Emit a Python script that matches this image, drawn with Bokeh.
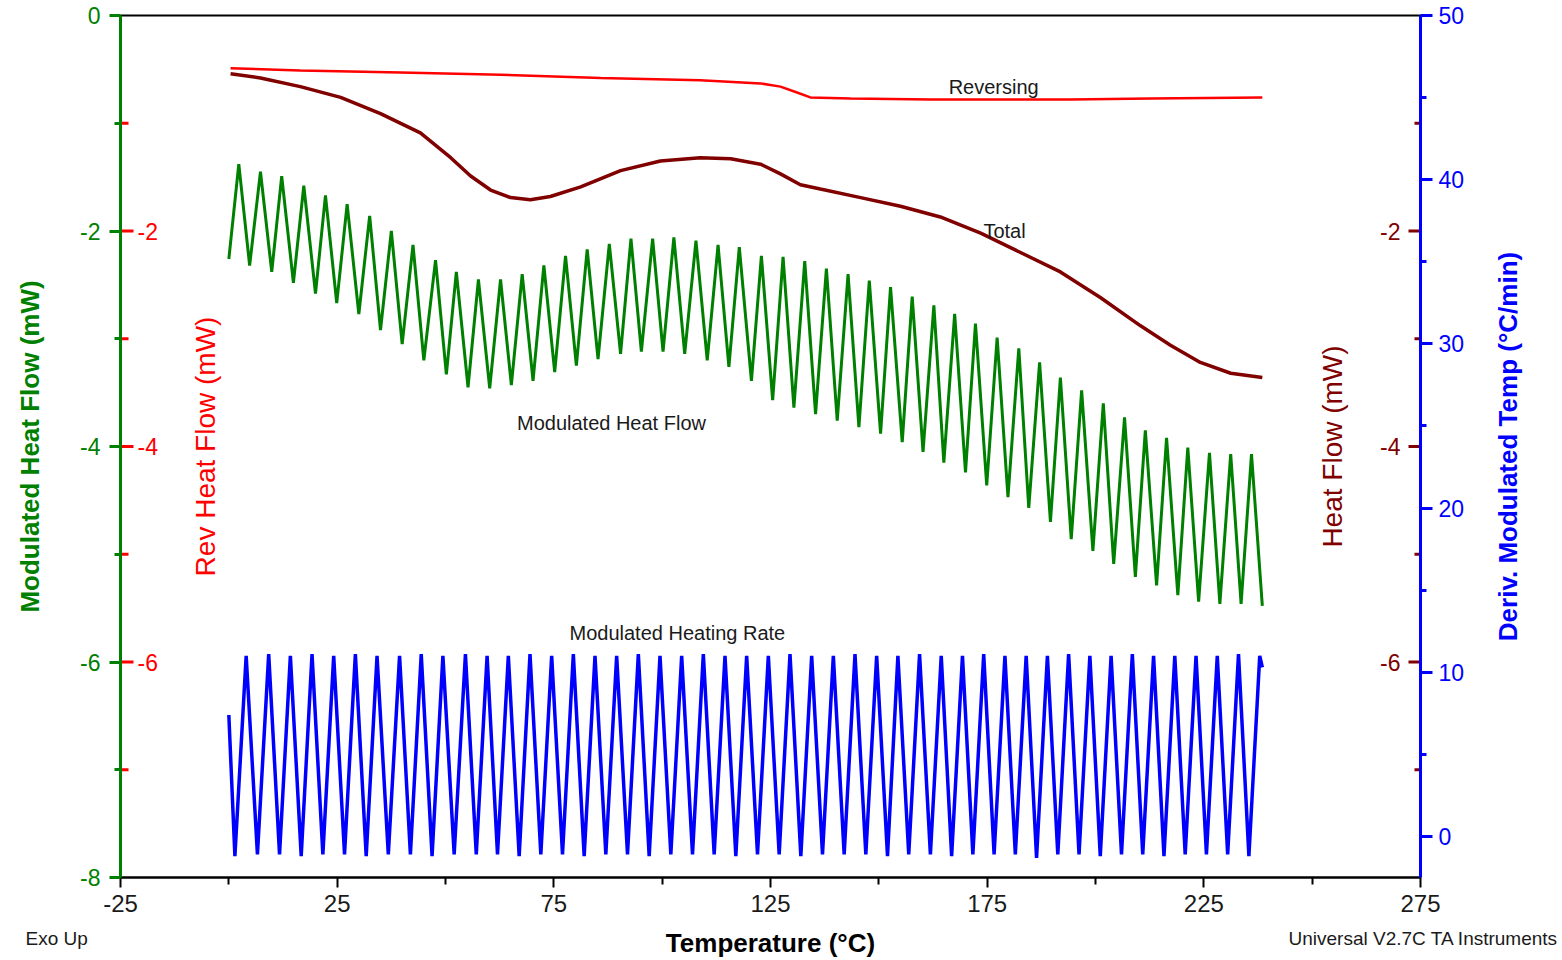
import math
from bokeh.plotting import figure
from bokeh.layouts import column, row
from bokeh.models import LinearAxis, Range1d, FixedTicker, Label
from bokeh.embed import file_html
from bokeh.resources import INLINE
from bokeh.core.properties import value

FONT = "Liberation Sans"
GREEN = "#008000"
RED = "#FF0000"
DRED = "#800000"
BLUE = "#0000FF"
TXT = "#1a1a1a"

# ---------------- axes ----------------
x_ticks = [-25, 25, 75, 125, 175, 225, 275]
x_minor = [0, 50, 100, 150, 200, 250]
left_ticks = [0, -2, -4, -6, -8]
left_minor = [-1, -3, -5, -7]
hf_major = [-2, -4, -6]
hf_minor = [-1, -3, -5, -7]
rate_ticks = [0, 10, 20, 30, 40, 50]
rate_minor = [5, 15, 25, 35, 45]

# ---------------- data ----------------
rev_T = [0.4, 16.5, 39.6, 62.7, 85.8, 108.8, 122.7, 127.3, 130.8, 134.2, 143.5, 161.9, 178.1, 194.2, 212.7, 238.5]
rev_V = [-0.49, -0.51, -0.53, -0.55, -0.58, -0.60, -0.63, -0.66, -0.71, -0.76, -0.77, -0.78, -0.78, -0.78, -0.77, -0.76]

tot_T = [0.4, 7.3, 16.5, 25.8, 35.0, 44.2, 51.2, 55.8, 60.4, 65.0, 69.6, 74.2, 81.2, 90.4, 99.6, 108.8,
         115.8, 122.7, 127.3, 131.9, 136.5, 145.8, 155.0, 164.2, 173.5, 182.7, 191.9, 201.2, 210.4,
         217.3, 224.2, 231.2, 238.5]
tot_V = [-0.54, -0.58, -0.66, -0.76, -0.91, -1.09, -1.32, -1.49, -1.62, -1.69, -1.71, -1.68, -1.59, -1.44,
         -1.35, -1.32, -1.33, -1.38, -1.47, -1.57, -1.61, -1.69, -1.77, -1.87, -2.02, -2.20, -2.38, -2.62,
         -2.88, -3.06, -3.22, -3.32, -3.36]

mhf_start = (0.0, -2.26)
mhf_end = (238.5, -5.48)
mhf_peak_T = [2.3, 7.3, 12.2, 17.3, 22.3, 27.3, 32.5, 37.5, 42.5, 47.7, 52.5, 57.6, 62.7, 67.7, 72.7, 77.7,
              82.7, 87.8, 92.8, 97.8, 102.7, 107.8, 112.9, 117.8, 122.9, 127.9, 132.9, 137.9, 142.9, 147.8,
              152.7, 157.7, 162.7, 167.5, 172.3, 177.3, 182.3, 187.1, 191.9, 196.8, 201.8, 206.7, 211.5,
              216.4, 221.3, 226.3, 231.2, 236.0]
mhf_peak_V = [-1.38, -1.45, -1.49, -1.58, -1.67, -1.75, -1.86, -2.00, -2.13, -2.27, -2.38, -2.45,
              -2.45, -2.40, -2.32, -2.23, -2.17, -2.12, -2.07, -2.07, -2.06, -2.09, -2.13, -2.15, -2.23,
              -2.24, -2.28, -2.35, -2.40, -2.46, -2.52, -2.61, -2.69, -2.77, -2.86, -2.99, -3.09,
              -3.22, -3.36, -3.48, -3.60, -3.73, -3.85, -3.92, -4.01, -4.06, -4.07, -4.07]
mhf_trough_T = [4.8, 9.9, 14.9, 20.0, 24.9, 30.0, 35.0, 40.0, 45.0, 50.2, 55.2, 60.2, 65.2, 70.2, 75.2,
                80.2, 85.2, 90.4, 95.2, 100.2, 105.2, 110.4, 115.4, 120.6, 125.5, 130.4, 135.4, 140.4,
                145.4, 150.4, 155.4, 160.2, 165.0, 170.0, 174.9, 179.8, 184.6, 189.6, 194.4, 199.4,
                204.2, 209.2, 214.1, 219.0, 223.8, 228.7, 233.6]
mhf_trough_V = [-2.32, -2.38, -2.48, -2.58, -2.67, -2.77, -2.92, -3.05, -3.20, -3.33, -3.45,
                -3.46, -3.43, -3.39, -3.31, -3.25, -3.19, -3.14, -3.12, -3.12, -3.14, -3.20, -3.26, -3.39, -3.57,
                -3.64, -3.70, -3.76, -3.82, -3.88, -3.96, -4.05, -4.15, -4.24, -4.36, -4.47,
                -4.57, -4.70, -4.86, -4.97, -5.09, -5.21, -5.29, -5.38, -5.44, -5.46, -5.46]

mhr_start = (0.0, 7.4)
mhr_end = (238.5, 10.3)
mhr_trough_T = [1.4, 6.6, 11.7, 16.7, 21.7, 26.7, 31.7, 36.8, 41.9, 46.9, 52.0, 57.1, 62.0, 67.0, 72.0,
                77.0, 82.0, 87.0, 92.0, 97.0, 102.0, 107.0, 112.0, 117.0, 122.0, 127.0, 132.0, 137.0,
                142.0, 147.0, 152.0, 156.9, 161.9, 166.8, 171.7, 176.6, 181.5, 186.4, 191.3, 196.2,
                201.1, 206.0, 210.9, 215.8, 220.7, 225.6, 230.5, 235.4]
mhr_trough_V = [-1.2, -1.1, -1.1, -1.2, -1.1, -1.1, -1.2, -1.1, -1.1, -1.2, -1.1, -1.1, -1.1, -1.2, -1.1,
                -1.1, -1.2, -1.1, -1.1, -1.2, -1.1, -1.1, -1.1, -1.2, -1.1, -1.1, -1.2, -1.1, -1.1, -1.1,
                -1.2, -1.1, -1.1, -1.2, -1.1, -1.1, -1.1, -1.3, -1.1, -1.1, -1.2, -1.1, -1.1, -1.2, -1.1,
                -1.1, -1.1, -1.2]
mhr_peak_T = [4.0, 9.2, 14.2, 19.2, 24.2, 29.2, 34.2, 39.4, 44.4, 49.4, 54.6, 59.6, 64.5, 69.5, 74.5,
              79.5, 84.5, 89.5, 94.5, 99.5, 104.5, 109.5, 114.5, 119.5, 124.5, 129.5, 134.5, 139.5,
              144.5, 149.5, 154.4, 159.4, 164.4, 169.3, 174.2, 179.1, 184.0, 188.9, 193.8, 198.7,
              203.6, 208.5, 213.4, 218.3, 223.2, 228.1, 233.0, 237.9]
mhr_peak_V = [11.0, 11.1, 11.0, 11.1, 11.0, 11.1, 11.0, 11.0, 11.1, 11.0, 11.1, 11.0, 11.0, 11.1, 11.0,
              11.1, 11.0, 11.0, 11.1, 11.0, 11.0, 11.1, 11.0, 11.0, 11.0, 11.1, 11.0, 11.0, 11.1, 11.0,
              11.0, 11.1, 11.0, 11.0, 11.1, 11.0, 11.0, 11.0, 11.1, 11.0, 11.0, 11.1, 11.0, 11.0, 11.0,
              11.0, 11.1, 11.0]

# ---------------- text ----------------
curve_labels = ["Reversing", "Total", "Modulated Heat Flow", "Modulated Heating Rate"]
curve_label_T = [176.5, 179.0, 88.3, 103.5]
curve_label_V = [-0.66, -2.00, -3.78, -5.73]
x_title = "Temperature (°C)"
rate_title = "Deriv. Modulated Temp (°C/min)"
footer_left = "Exo Up"
footer_right = "Universal V2.7C TA Instruments"


def alternate(a, b):
    out = []
    for i in range(max(len(a), len(b))):
        if i < len(a):
            out.append(a[i])
        if i < len(b):
            out.append(b[i])
    return out


def hyphen(ticks):
    return {t: str(t) for t in ticks}


def no_align(fig):
    try:
        fig.frame_align = False
    except Exception:
        pass


mhf_x = [mhf_start[0]] + alternate(mhf_peak_T, mhf_trough_T) + [mhf_end[0]]
mhf_y = [mhf_start[1]] + alternate(mhf_peak_V, mhf_trough_V) + [mhf_end[1]]
mhr_x = [mhr_start[0]] + alternate(mhr_trough_T, mhr_peak_T) + [mhr_end[0]]
mhr_y = [mhr_start[1]] + alternate(mhr_trough_V, mhr_peak_V) + [mhr_end[1]]

W = 1562
FOOT_H = 35
SIDE_W = 82
MAIN_H = 960 - FOOT_H

p = figure(width=W - SIDE_W, height=MAIN_H, x_range=Range1d(-25, 275), y_range=Range1d(-8, 0),
           x_axis_type=None, y_axis_type=None,
           output_backend="svg", toolbar_location=None,
           min_border_left=120, min_border_right=W - SIDE_W - 1420, min_border_top=15, min_border_bottom=48)
p.extra_y_ranges = {"rate": Range1d(-2.5, 50)}
p.background_fill_color = "white"
p.border_fill_color = "white"
p.outline_line_color = "black"
p.outline_line_width = 2

# x axis
xax = LinearAxis(ticker=FixedTicker(ticks=x_ticks, minor_ticks=x_minor))
xax.major_label_overrides = hyphen(x_ticks)
xax.axis_line_color = "black"
xax.axis_line_width = 2
xax.major_tick_line_color = "black"
xax.major_tick_line_width = 2
xax.minor_tick_line_color = "black"
xax.minor_tick_line_width = 2
xax.major_tick_out = 10
xax.major_tick_in = 0
xax.minor_tick_out = 7
xax.minor_tick_in = 0
xax.major_label_standoff = 7
xax.major_label_text_font = FONT
xax.major_label_text_font_size = "24px"
xax.major_label_text_color = TXT
p.add_layout(xax, "below")

# left green axis
gax = LinearAxis(ticker=FixedTicker(ticks=left_ticks, minor_ticks=left_minor))
gax.axis_label = "Modulated Heat Flow (mW)"
gax.major_label_overrides = hyphen(left_ticks)
gax.axis_line_color = GREEN
gax.axis_line_width = 3
gax.major_tick_line_color = GREEN
gax.major_tick_line_width = 3
gax.minor_tick_line_color = GREEN
gax.minor_tick_line_width = 3
gax.major_tick_out = 11
gax.major_tick_in = 0
gax.minor_tick_out = 6
gax.minor_tick_in = 0
gax.major_label_standoff = 9
gax.major_label_text_font = FONT
gax.major_label_text_font_size = "23px"
gax.major_label_text_color = GREEN
gax.axis_label_text_font = FONT
gax.axis_label_text_font_size = "26px"
gax.axis_label_text_font_style = "bold"
gax.axis_label_text_color = GREEN
gax.axis_label_standoff = 32
p.add_layout(gax, "left")

# right blue axis (title drawn in the side strip)
bax = LinearAxis(y_range_name="rate", ticker=FixedTicker(ticks=rate_ticks, minor_ticks=rate_minor))
bax.axis_line_color = BLUE
bax.axis_line_width = 3
bax.major_tick_line_color = BLUE
bax.major_tick_line_width = 3
bax.minor_tick_line_color = BLUE
bax.minor_tick_line_width = 3
bax.major_tick_out = 12
bax.major_tick_in = 0
bax.minor_tick_out = 6
bax.minor_tick_in = 0
bax.major_label_standoff = 6
bax.major_label_text_font = FONT
bax.major_label_text_font_size = "23px"
bax.major_label_text_color = BLUE
p.add_layout(bax, "right")

# inner red (Rev Heat Flow) ticks and labels, on the left edge
p.ray(x=[-25] * len(hf_minor), y=hf_minor, length=8, length_units="screen", angle=0,
      line_color=RED, line_width=3)
p.ray(x=[-25] * len(hf_major), y=hf_major, length=13, length_units="screen", angle=0,
      line_color=RED, line_width=3)
p.text(x=[-25] * len(hf_major), y=hf_major, text=[str(t) for t in hf_major], x_offset=17,
       text_align="left", text_baseline="middle", text_color=RED,
       text_font=value(FONT), text_font_size="23px")

# inner dark red (Heat Flow) ticks and labels, on the right edge
p.ray(x=[275] * len(hf_minor), y=hf_minor, length=6, length_units="screen", angle=math.pi,
      line_color=DRED, line_width=3)
p.ray(x=[275] * len(hf_major), y=hf_major, length=12, length_units="screen", angle=math.pi,
      line_color=DRED, line_width=3)
p.text(x=[275] * len(hf_major), y=hf_major, text=[str(t) for t in hf_major], x_offset=-20,
       text_align="right", text_baseline="middle", text_color=DRED,
       text_font=value(FONT), text_font_size="23px")

# curves
p.line(rev_T, rev_V, line_color=RED, line_width=2.5)
p.line(tot_T, tot_V, line_color=DRED, line_width=3.5)
p.line(mhf_x, mhf_y, line_color=GREEN, line_width=3)
p.line(mhr_x, mhr_y, line_color=BLUE, line_width=3.5, y_range_name="rate")


def lab(x, y, text, color, size, xo=0, align="center", angle=0.0, bold=False):
    p.add_layout(Label(x=x, y=y, text=text, x_offset=xo, text_align=align,
                       text_baseline="middle", angle=angle, text_color=color, text_font=FONT,
                       text_font_size=f"{size}px", text_font_style="bold" if bold else "normal"))


for t, xv, yv in zip(curve_labels, curve_label_T, curve_label_V):
    lab(xv, yv, t, TXT, 20)

# inner axis titles
lab(-25, -4, "Rev Heat Flow (mW)", RED, 28, xo=85, angle=math.pi / 2)
lab(275, -4, "Heat Flow (mW)", DRED, 28, xo=-88, angle=math.pi / 2)

# ---------------- right strip (blue axis title) ----------------
s = figure(width=SIDE_W, height=MAIN_H, x_range=Range1d(0, SIDE_W), y_range=Range1d(-8, 0),
           x_axis_type=None, y_axis_type=None, output_backend="svg", toolbar_location=None,
           min_border_left=0, min_border_right=0, min_border_top=15, min_border_bottom=48)
s.outline_line_color = None
s.background_fill_color = "white"
s.border_fill_color = "white"
s.text(x=[27], y=[-4], text=[rate_title], angle=math.pi / 2, text_align="center",
       text_baseline="middle", text_color=BLUE, text_font=value(FONT), text_font_size="26px",
       text_font_style="bold")

# ---------------- footer strip (x-axis title and notes) ----------------
f = figure(width=W, height=FOOT_H, x_range=Range1d(0, W), y_range=Range1d(FOOT_H, 0),
           x_axis_type=None, y_axis_type=None, output_backend="svg", toolbar_location=None,
           min_border_left=0, min_border_right=0, min_border_top=0, min_border_bottom=0)
f.outline_line_color = None
f.background_fill_color = "white"
f.border_fill_color = "white"
f.text(x=[25], y=[13], text=[footer_left], text_align="left", text_baseline="middle",
       text_color=TXT, text_font=value(FONT), text_font_size="19px")
f.text(x=[W - 4], y=[13], text=[footer_right], text_align="right", text_baseline="middle",
       text_color=TXT, text_font=value(FONT), text_font_size="19px")
f.text(x=[770], y=[17], text=[x_title], text_align="center", text_baseline="middle",
       text_color="black", text_font=value(FONT), text_font_size="26px", text_font_style="bold")

for fig in (p, s, f):
    no_align(fig)

layout = column(row(p, s, spacing=0), f, spacing=0)
open("out.html", "w").write(file_html(layout, INLINE))
